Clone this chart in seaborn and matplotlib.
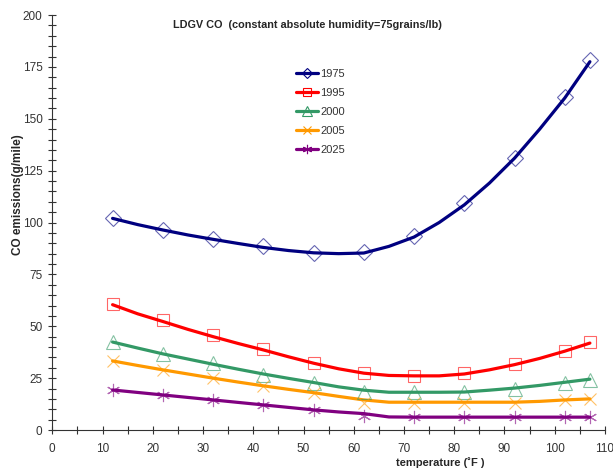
import numpy as np
import pandas as pd
import matplotlib
matplotlib.use("Agg")
import matplotlib.pyplot as plt
from matplotlib.lines import Line2D
from matplotlib.ticker import MultipleLocator
import seaborn as sns

sns.set_style("white")
plt.rcParams["font.family"] = ["Liberation Sans", "DejaVu Sans"]

# DATA
# ====================================
years = ["1975", "1995", "2000", "2005", "2025"]

# measured points (markers), every 10 F
temp_pts = [12, 22, 32, 42, 52, 62, 72, 82, 92, 102, 107]
co_1975 = [102.2, 96.6, 92.2, 88.7, 85.5, 85.9, 93.6, 109.2, 131.3, 160.5, 178.2]
co_1995 = [60.7, 52.8, 45.9, 39.0, 32.5, 27.7, 26.2, 27.7, 31.9, 38.3, 42.4]
co_2000 = [42.2, 36.7, 32.2, 26.6, 22.5, 18.5, 18.5, 18.5, 19.7, 22.5, 24.2]
co_2005 = [33.3, 29.0, 25.0, 21.3, 18.0, 12.9, 12.9, 12.9, 12.9, 14.5, 15.0]
co_2025 = [19.3, 16.9, 14.5, 12.1, 9.7, 6.9, 6.2, 6.2, 6.2, 6.2, 6.2]

# fitted curves (lines), every 5 F
temp_fit = [12, 17, 22, 27, 32, 37, 42, 47, 52, 57, 62, 67, 72, 77, 82, 87, 92, 97, 102, 107]
fit_1975 = [102.0, 99.0, 96.4, 94.0, 91.9, 89.9, 88.0, 86.5, 85.4, 85.0, 85.3, 88.5, 93.0, 100.0,
            108.5, 119.0, 131.0, 145.0, 160.0, 177.5]
fit_1995 = [60.4, 56.0, 52.3, 48.5, 45.0, 41.7, 38.6, 35.3, 32.2, 29.5, 27.4, 26.3, 26.1, 26.1,
            27.0, 29.0, 31.5, 34.5, 38.0, 41.9]
fit_2000 = [42.4, 39.5, 36.7, 34.2, 31.7, 29.3, 27.0, 24.9, 22.9, 20.8, 19.2, 18.2, 18.2, 18.2,
            18.3, 19.2, 20.2, 21.5, 23.0, 24.5]
fit_2005 = [33.3, 31.1, 29.0, 27.0, 25.0, 23.1, 21.3, 19.6, 18.0, 16.2, 14.5, 13.4, 13.4, 13.4,
            13.4, 13.4, 13.4, 13.8, 14.5, 15.0]
fit_2025 = [19.3, 18.1, 16.9, 15.7, 14.5, 13.3, 12.1, 10.9, 9.7, 8.7, 7.9, 6.3, 6.2, 6.2,
            6.2, 6.2, 6.2, 6.2, 6.2, 6.2]

pts = pd.DataFrame({"temp": temp_pts * 5,
                    "co": co_1975 + co_1995 + co_2000 + co_2005 + co_2025,
                    "year": np.repeat(years, len(temp_pts))})
fit = pd.DataFrame({"temp": temp_fit * 5,
                    "co": fit_1975 + fit_1995 + fit_2000 + fit_2005 + fit_2025,
                    "year": np.repeat(years, len(temp_fit))})

colors = {"1975": "#000080", "1995": "#ff0000", "2000": "#339966",
          "2005": "#ff9900", "2025": "#800080"}
markers = {"1975": "D", "1995": "s", "2000": "^", "2005": "x", "2025": (6, 2, 0)}
msizes = {"1975": 8, "1995": 9, "2000": 9.5, "2005": 9, "2025": 9.5}

# PLOT
# ====================================
fig = plt.figure(figsize=(6.13, 4.74), dpi=100)
ax = fig.add_axes([0.0853, 0.0928, 0.9016, 0.8755])

sns.lineplot(data=fit, x="temp", y="co", hue="year", palette=colors,
             linewidth=2.3, legend=False, ax=ax, zorder=2)

handles = []
for y in years:
    d = pts[pts["year"] == y]
    ax.plot(d["temp"], d["co"], linestyle="none", marker=markers[y],
            markersize=msizes[y], markerfacecolor="none",
            markeredgecolor=colors[y], markeredgewidth=0.8, alpha=0.6,
            zorder=3, clip_on=False)
    handles.append(Line2D([], [], color=colors[y], linewidth=2.3,
                          marker=markers[y], markersize=msizes[y] * 0.7,
                          markerfacecolor="none", markeredgewidth=0.8,
                          markeredgecolor=colors[y]))

ax.set_xlim(0, 110)
ax.set_ylim(0, 200)
ax.xaxis.set_major_locator(MultipleLocator(10))
ax.xaxis.set_minor_locator(MultipleLocator(5))
ax.yaxis.set_major_locator(MultipleLocator(25))
ax.yaxis.set_minor_locator(MultipleLocator(5))
ax.tick_params(which="both", bottom=True, left=True, direction="inout",
               length=6, width=0.8, color="#333333")
ax.tick_params(which="major", labelsize=8.5, labelcolor="#333333")
ax.tick_params(axis="x", pad=6)
ax.tick_params(axis="y", pad=4)
sns.despine(ax=ax)
for s in ["left", "bottom"]:
    ax.spines[s].set_color("#333333")
    ax.spines[s].set_linewidth(0.8)
ax.set_xlabel("")
ax.set_ylabel("")

fig.text(0.502, 1 - 25 / 474, "LDGV CO  (constant absolute humidity=75grains/lb)",
         ha="center", va="center", fontsize=7.8, fontweight="bold")
fig.text(18 / 613, 1 - 195 / 474, "CO emissions(g/mile)", rotation=90,
         ha="center", va="center", fontsize=8.5, fontweight="bold")
fig.text(440 / 613, 1 - 463 / 474, "temperature (˚F )",
         ha="center", va="center", fontsize=8, fontweight="bold")

fig.legend(handles, years, loc="upper left",
           bbox_to_anchor=(296 / 613, 1 - 69 / 474), frameon=False,
           fontsize=8, labelcolor="#333333", handlelength=2.0,
           handletextpad=0.2, labelspacing=0.8, borderpad=0, borderaxespad=0)

fig.savefig("out.png", dpi=100)
